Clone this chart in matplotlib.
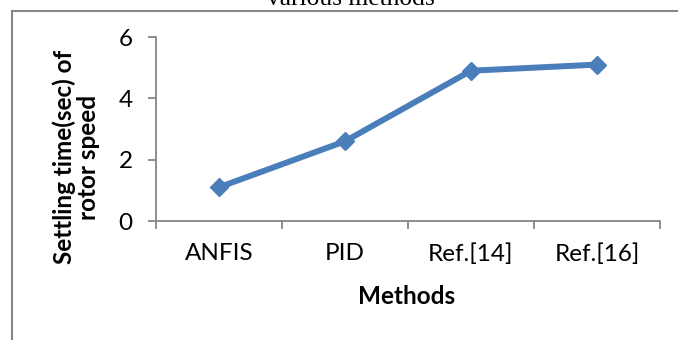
import matplotlib
matplotlib.use("Agg")
import matplotlib.pyplot as plt
from matplotlib.lines import Line2D
import numpy as np

# Settling time of rotor speed for each control method
methods = ["ANFIS", "PID", "Ref.[14]", "Ref.[16]"]
settling_time = [1.1, 2.6, 4.9, 5.1]
y_ticks = [0, 2, 4, 6]

W, H, DPI = 678, 340, 100
fig = plt.figure(figsize=(W / DPI, H / DPI), dpi=DPI)
plt.rcParams['font.family'] = ['Lato', 'DejaVu Sans']

line_color = "#4A7EBB"
axis_color = "#868686"
fs = 17.5

# outer chart frame (left and top edges)
fig.add_artist(Line2D([12 / W, 12 / W], [0, 1 - 11 / H], transform=fig.transFigure,
                      color=axis_color, lw=1.5))
fig.add_artist(Line2D([12 / W, 1], [1 - 11 / H, 1 - 11 / H], transform=fig.transFigure,
                      color=axis_color, lw=1.5))

# caption text above the chart
fig.text(351 / W, 1 - 5 / H, "various methods", family="Liberation Serif",
         fontsize=18.4, ha="center", va="baseline")

left, right, top, bottom = 156, 660, 37, 221
ax = fig.add_axes([left / W, 1 - bottom / H, (right - left) / W, (bottom - top) / H])

x = np.arange(len(methods)) + 0.5
ax.plot(x, settling_time, color=line_color, lw=4.3, marker="D", markersize=9,
        markerfacecolor=line_color, markeredgecolor=line_color, clip_on=False)

ax.set_xlim(0, len(methods))
ax.set_ylim(0, 6)
ax.set_yticks(y_ticks)
ax.set_yticklabels([str(v) for v in y_ticks], fontsize=fs)

ax.set_xticks(np.arange(len(methods) + 1))
ax.set_xticklabels([])
ax.set_xticks(x, minor=True)
ax.set_xticklabels(methods, minor=True, fontsize=fs)

for s in ("top", "right"):
    ax.spines[s].set_visible(False)
for s in ("left", "bottom"):
    ax.spines[s].set_color(axis_color)
    ax.spines[s].set_linewidth(1.3)

ax.tick_params(axis="y", which="major", direction="out", length=5.8, width=1.3,
               color=axis_color, pad=11)
ax.tick_params(axis="x", which="major", direction="out", length=5.5, width=1.3,
               color=axis_color)
ax.tick_params(axis="x", which="minor", length=0, pad=16)

fig.text(407 / W, 1 - 297 / H, "Methods", fontsize=fs, fontweight="bold",
         ha="center", va="center")
fig.text(76.5 / W, 1 - 157 / H, "Settling time(sec) of\nrotor speed", fontsize=fs,
         fontweight="bold", rotation=90, ha="center", va="center",
         multialignment="center", linespacing=1.05)

fig.savefig("out.png", dpi=DPI, facecolor="white")
